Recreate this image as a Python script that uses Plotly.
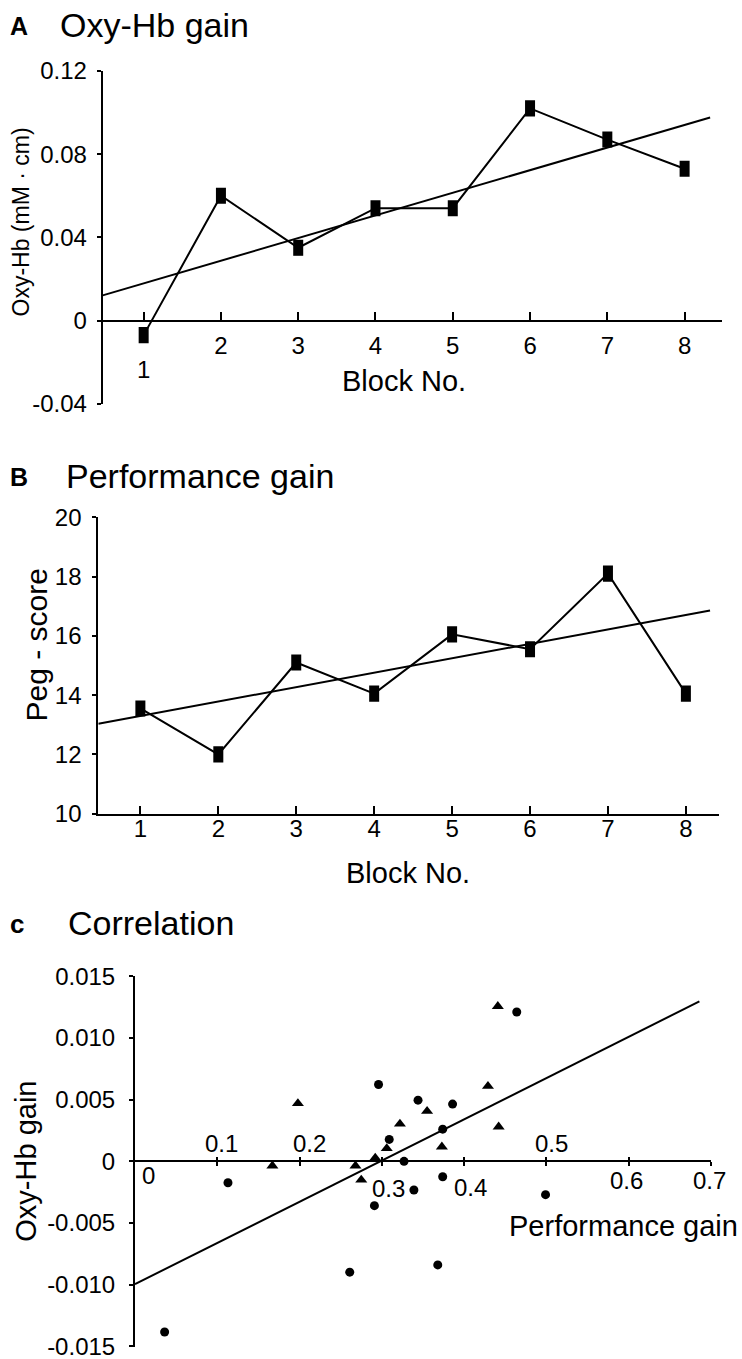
import plotly.graph_objects as go

W, H = 742, 1359
FONT = "Liberation Sans, Arial, Helvetica, sans-serif"

# ---------------- data ----------------
blocks = [1, 2, 3, 4, 5, 6, 7, 8]
oxy_hb = [-0.007, 0.060, 0.035, 0.054, 0.054, 0.102, 0.087, 0.073]
peg_score = [13.55, 12.0, 15.1, 14.05, 16.05, 15.55, 18.1, 14.05]

a_trend_intercept, a_trend_slope = 0.0070, 0.01088
a_trend_x = [0.47, 8.33]
b_trend_intercept, b_trend_slope = 12.81, 0.4866
b_trend_x = [0.46, 8.31]

tri_perf = [0.167, 0.198, 0.268, 0.275, 0.292, 0.306, 0.322, 0.355, 0.373, 0.429, 0.441, 0.442]
tri_oxy = [-0.00036, 0.00469, -0.00036, -0.00151, 0.00028, 0.00105, 0.00303, 0.00407, 0.00118, 0.00609, 0.01256, 0.00280]
dot_perf = [0.036, 0.113, 0.261, 0.291, 0.296, 0.309, 0.327, 0.339, 0.344, 0.374, 0.374, 0.368, 0.386, 0.464, 0.499]
dot_oxy = [-0.01383, -0.00173, -0.00898, -0.00359, 0.00623, 0.00178, 0.0, -0.00232, 0.00496, 0.00261, -0.00125, -0.00839, 0.00464, 0.01210, -0.00270]
c_trend_intercept, c_trend_slope = -0.00995, 0.0334
c_trend_x = [0.0, 0.686]

a_yticks = [-0.04, 0, 0.04, 0.08, 0.12]
a_yticktext = ["-0.04", "0", "0.04", "0.08", "0.12"]
b_yticks = [10, 12, 14, 16, 18, 20]
c_yticks = [-0.015, -0.010, -0.005, 0, 0.005, 0.010, 0.015]
c_yticktext = ["-0.015", "-0.010", "-0.005", "0", "0.005", "0.010", "0.015"]
c_xticks = [0, 0.1, 0.2, 0.3, 0.4, 0.5, 0.6, 0.7]
c_xticktext = ["0", "0.1", "0.2", "0.3", "0.4", "0.5", "0.6", "0.7"]
# label offsets (pixels) for the alternating tick labels of panel C
c_xlabel_dx = [13, 4, 10, 7, 6, 5, -2, -1]
c_xlabel_dy = [-14, 18, 18, -27, -26, 18, -19, -19]

# ---------------- figure ----------------
fig = go.Figure()

def trend(x_ends, b0, b1):
    return [b0 + b1 * x for x in x_ends]

rect_marker = dict(symbol="line-ns", size=11.5, color="black",
                   line=dict(color="black", width=10))

# Panel A
fig.add_trace(go.Scatter(x=blocks, y=oxy_hb, mode="lines+markers",
                         line=dict(color="black", width=2), marker=rect_marker,
                         xaxis="x", yaxis="y", showlegend=False))
fig.add_trace(go.Scatter(x=a_trend_x, y=trend(a_trend_x, a_trend_intercept, a_trend_slope),
                         mode="lines", line=dict(color="black", width=2),
                         xaxis="x", yaxis="y", showlegend=False))
# Panel B
fig.add_trace(go.Scatter(x=blocks, y=peg_score, mode="lines+markers",
                         line=dict(color="black", width=2), marker=rect_marker,
                         xaxis="x2", yaxis="y2", showlegend=False))
fig.add_trace(go.Scatter(x=b_trend_x, y=trend(b_trend_x, b_trend_intercept, b_trend_slope),
                         mode="lines", line=dict(color="black", width=2),
                         xaxis="x2", yaxis="y2", showlegend=False))
# Panel C
fig.add_trace(go.Scatter(x=c_trend_x, y=trend(c_trend_x, c_trend_intercept, c_trend_slope),
                         mode="lines", line=dict(color="black", width=2),
                         xaxis="x3", yaxis="y3", showlegend=False))
fig.add_trace(go.Scatter(x=tri_perf, y=tri_oxy, mode="markers",
                         marker=dict(symbol="triangle-up", size=10.5, color="black"),
                         xaxis="x3", yaxis="y3", showlegend=False))
fig.add_trace(go.Scatter(x=dot_perf, y=dot_oxy, mode="markers",
                         marker=dict(symbol="circle", size=9, color="black"),
                         xaxis="x3", yaxis="y3", showlegend=False))
# dummy trace for the crossing-tick overlay axis
fig.add_trace(go.Scatter(x=[None], y=[None], mode="markers", xaxis="x4", yaxis="y3",
                         showlegend=False, hoverinfo="skip"))

def px_x(px):
    return px / W

def px_y(py):
    return 1 - py / H

tickfont = dict(size=24, color="black", family=FONT)
common = dict(showgrid=False, zeroline=False, showline=True, linecolor="black",
              linewidth=2, tickcolor="black", tickwidth=2, tickfont=tickfont,
              automargin=False, ticklabeloverflow="allow")

# block 1 label of panel A sits lower (its value is below zero) -> drawn separately
a_ticktext = ["" if v < 0 else str(b) for b, v in zip(blocks, oxy_hb)]

fig.update_layout(
    width=W, height=H, margin=dict(l=0, r=0, t=0, b=0, autoexpand=False),
    paper_bgcolor="white", plot_bgcolor="white",
    font=dict(family=FONT, color="black"),
    xaxis=dict(domain=[px_x(102.7), px_x(721.7)], range=[0.47, 8.48], anchor="free",
               position=px_y(320.7), ticks="inside", ticklen=8, tickvals=blocks,
               ticktext=a_ticktext, ticklabelstandoff=3, **common),
    yaxis=dict(domain=[px_y(404), px_y(70.7)], range=[-0.0401, 0.1201], anchor="x",
               ticks="outside", ticklen=4, tickvals=a_yticks, ticktext=a_yticktext,
               ticklabelstandoff=5, **common),
    xaxis2=dict(domain=[px_x(98.3), px_x(719.4)], range=[0.46, 8.43], anchor="y2",
                ticks="inside", ticklen=8, tickvals=blocks, ticklabelstandoff=-8, **common),
    yaxis2=dict(domain=[px_y(814), px_y(517)], range=[9.99, 20.01], anchor="x2",
                ticks="outside", ticklen=4, tickvals=b_yticks, ticklabelstandoff=6, **common),
    xaxis3=dict(domain=[px_x(135), px_x(711)], range=[0, 0.7001], anchor="free",
                position=px_y(1161.3), ticks="outside", ticklen=4, tickvals=c_xticks[1:],
                showticklabels=False, **common),
    xaxis4=dict(domain=[px_x(135), px_x(711)], range=[0, 0.7001], anchor="free",
                overlaying="x3", position=px_y(1161.3), ticks="inside", ticklen=4,
                tickvals=c_xticks[1:], tickcolor="black", tickwidth=2, automargin=False,
                showticklabels=False, showline=False, showgrid=False, zeroline=False),
    yaxis3=dict(domain=[px_y(1346.7), px_y(976)], range=[-0.01502, 0.01502], anchor="x3",
                ticks="outside", ticklen=4, tickvals=c_yticks, ticktext=c_yticktext,
                ticklabelstandoff=9, **common),
)

anns = []

def ann(text, px, py, size, xanchor="center", angle=0, bold=False):
    anns.append(dict(text=f"<b>{text}</b>" if bold else text, x=px_x(px), y=px_y(py),
                     xref="paper", yref="paper", xanchor=xanchor, yanchor="middle",
                     showarrow=False, textangle=angle,
                     font=dict(size=size, color="black", family=FONT)))

# panel titles
ann("A", 8, 26, 25, xanchor="left", bold=True)
ann("Oxy-Hb gain", 58, 25.5, 34, xanchor="left")
ann("B", 8, 476.5, 25, xanchor="left", bold=True)
ann("Performance gain", 64, 476, 34, xanchor="left")
ann("c", 8, 924, 26, xanchor="left", bold=True)
ann("Correlation", 66, 923, 34, xanchor="left")

# axis titles
ann("Block No.", 404, 381, 29)
ann("Oxy-Hb (mM · cm)", 20, 222.5, 23, angle=-90)
ann("Block No.", 408, 872.5, 29)
ann("Peg - score", 35.5, 645, 30, angle=-90)
ann("Performance gain", 740, 1226, 29, xanchor="right")
ann("Oxy-Hb gain", 26, 1161.7, 29, angle=-90)

# lowered tick label(s) of panel A (blocks whose value is below zero)
for b, v in zip(blocks, oxy_hb):
    if v < 0:
        anns.append(dict(text=str(b), x=b, y=0, xref="x", yref="y", xanchor="center",
                         yanchor="middle", yshift=-49, showarrow=False, font=tickfont))

# panel C x tick labels (alternating above / below the axis)
for v, t, dx, dy in zip(c_xticks, c_xticktext, c_xlabel_dx, c_xlabel_dy):
    anns.append(dict(text=t, x=v, y=0, xref="x3", yref="y3", xanchor="center",
                     yanchor="middle", xshift=dx, yshift=dy, showarrow=False,
                     font=tickfont))

fig.update_layout(annotations=anns)

fig.write_html("out.html", config={"displayModeBar": False},
               post_script="document.body.style.margin='0px';document.body.style.overflow='hidden';")
